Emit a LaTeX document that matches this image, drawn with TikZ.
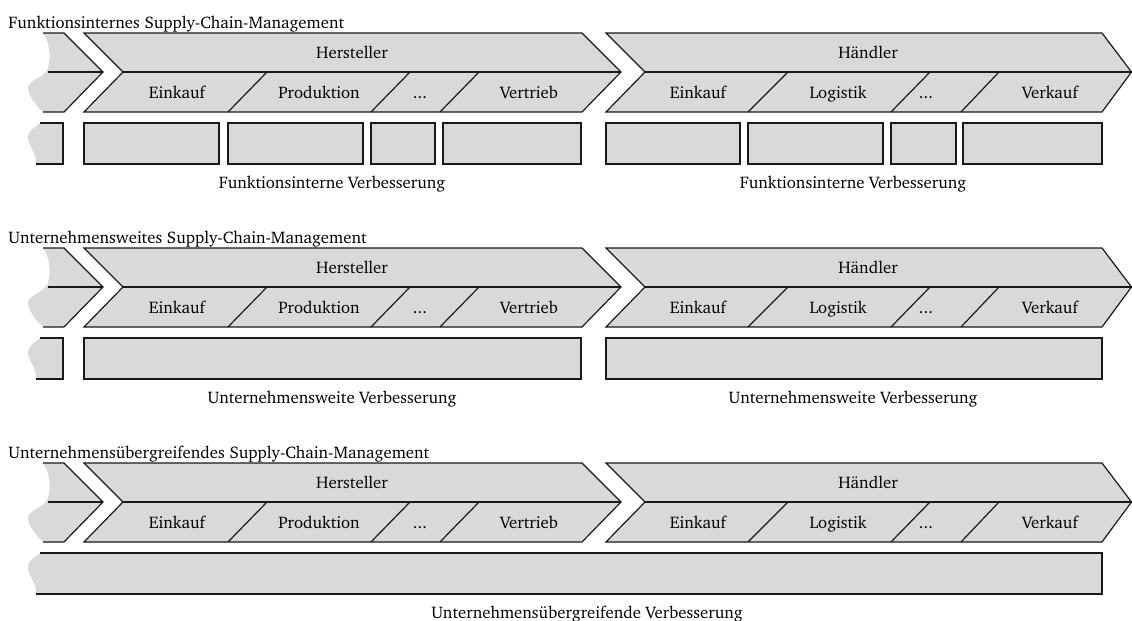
\documentclass[tikz,border=0pt]{standalone}
\usepackage[T1]{fontenc}
\usepackage{charter}
\definecolor{chaingray}{RGB}{217,217,217}
\tikzset{
  outline/.style={draw=black!90, line width=0.6pt, line join=miter},
  lbl/.style={inner sep=0pt, anchor=base, font=\fontsize{8.4}{10}\selectfont},
  ttl/.style={lbl, anchor=base west},
}
% One row of value-chain chevrons: torn predecessor, Hersteller, Haendler
\newcommand\chainrow[1]{%
  \fill[chaingray] (43,33) -- (64,33) -- (103,72) -- (64,112) -- (43,112)
    .. controls (36,105) and (28,96) .. (28,87)
    .. controls (29,80) and (44,78) .. (48,68)
    .. controls (51,58) and (50,42) .. (43,33) -- cycle;
  \draw[outline] (43,33) -- (64,33) -- (103,72) -- (64,112) -- (43,112);
  \draw[outline] (48,72) -- (103,72);
  \draw[outline, fill=chaingray] (84,33) -- (582,33) -- (621,72) -- (582,112) -- (84,112) -- (123,72) -- cycle;
  \draw[outline] (123,72) -- (621,72);
  \draw[outline] (228,112) -- (267,72) (371,112) -- (410,72) (440,112) -- (479,72);
  \draw[outline, fill=chaingray] (606,33) -- (1102,33) -- (1131.5,72) -- (1102,112) -- (606,112) -- (645,72) -- cycle;
  \draw[outline] (645,72) -- (1131.5,72);
  \draw[outline] (748,112) -- (788,72) (891,112) -- (930,72) (961,112) -- (999,72);
  \node[lbl] (#1-hst) at (352,58) {Hersteller};
  \node[lbl] (#1-hdl) at (868,58) {H\"andler};
  \node[lbl] (#1-ek1) at (177,98) {Einkauf};
  \node[lbl] (#1-prd) at (319,98) {Produktion};
  \node[lbl] (#1-dt1) at (420,98) {...};
  \node[lbl] (#1-vtr) at (529,98) {Vertrieb};
  \node[lbl] (#1-ek2) at (698,98) {Einkauf};
  \node[lbl] (#1-log) at (838,98) {Logistik};
  \node[lbl] (#1-dt2) at (926,98) {...};
  \node[lbl] (#1-vkf) at (1050,98) {Verkauf};
}
% Box with a torn left edge, right side at #1
\newcommand\tornbox[1]{%
  \fill[chaingray] (40,123) -- (#1,123) -- (#1,164) -- (36,164)
    .. controls (37,152) and (28,146) .. (28,138)
    .. controls (28,130) and (36,127) .. (40,123) -- cycle;
  \draw[outline] (40,123) -- (#1,123) -- (#1,164) -- (36,164);
}
\newcommand\plainbox[2]{%
  \draw[outline, fill=chaingray] (#1,123) rectangle (#2,164);
}
\begin{document}
\begin{tikzpicture}[x=0.5pt, y=-0.5pt]
  \useasboundingbox (0,0) rectangle (1132,621);
  % Funktionsinternes SCM
  \node[ttl] (t1) at (8,28) {Funktionsinternes Supply-Chain-Management};
  \chainrow{a}
  \tornbox{63}
  \plainbox{84}{219}\plainbox{228}{363}\plainbox{371}{435}\plainbox{443}{581}
  \plainbox{606}{740}\plainbox{748}{883}\plainbox{891}{956}\plainbox{963}{1102}
  \node[lbl] (c1a) at (332,188) {Funktionsinterne Verbesserung};
  \node[lbl] (c1b) at (853,188) {Funktionsinterne Verbesserung};
  % Unternehmensweites SCM
  \begin{scope}[shift={(0,215)}]
    \node[ttl] (t2) at (8,28) {Unternehmensweites Supply-Chain-Management};
    \chainrow{b}
    \tornbox{63}
    \plainbox{84}{581}
    \plainbox{606}{1102}
    \node[lbl] (c2a) at (332,188) {Unternehmensweite Verbesserung};
    \node[lbl] (c2b) at (853,188) {Unternehmensweite Verbesserung};
  \end{scope}
  % Unternehmensuebergreifendes SCM
  \begin{scope}[shift={(0,430)}]
    \node[ttl] (t3) at (8,28) {Unternehmens\"ubergreifendes Supply-Chain-Management};
    \chainrow{c}
    \tornbox{1102}
    \node[lbl] (c3) at (587,188) {Unternehmens\"ubergreifende Verbesserung};
  \end{scope}
\end{tikzpicture}
\end{document}
